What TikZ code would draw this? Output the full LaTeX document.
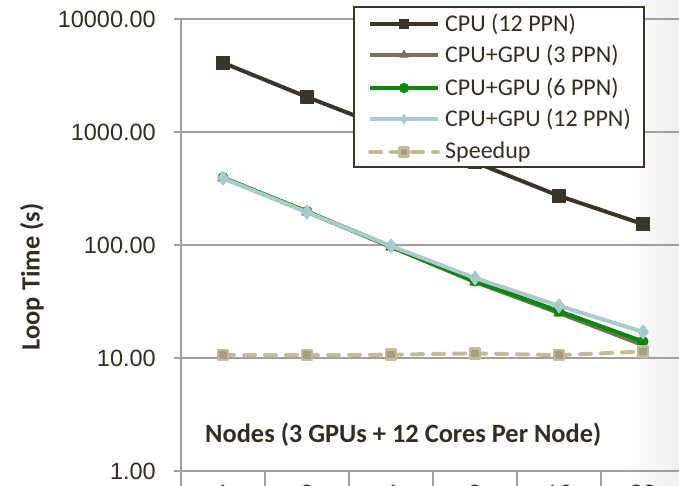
\documentclass[tikz,border=0pt]{standalone}
\usepackage{fontspec}
\setmainfont{Carlito}
\newfontfamily\axisfont{Liberation Sans}
\usetikzlibrary{math, plotmarks}
\definecolor{cpubrown}{RGB}{59,52,40}
\definecolor{taupe}{RGB}{122,110,88}
\definecolor{leafgreen}{RGB}{0,140,0}
\definecolor{paleteal}{RGB}{168,204,204}
\definecolor{sandtan}{RGB}{196,188,150}
\definecolor{sandfill}{RGB}{166,158,126}
\definecolor{gridgray}{RGB}{160,160,160}
\definecolor{inkbrown}{RGB}{51,46,36}

% log axis: value -> y pixel
\newcommand{\ly}[1]{19+113*(4-log10(#1))}

\tikzset{
  gridline/.style={gridgray, line width=2pt},
  ticklabel/.style={inner sep=0, text=inkbrown, font=\axisfont\fontsize{23.5}{24}\selectfont},
  series/.style={line width=4pt, line join=round, mark options={solid, line width=1pt}},
  cpuline/.style={series, cpubrown, mark=square*, mark size=6.5pt},
  ppnthree/.style={series, taupe, mark=triangle*, mark size=6pt},
  ppnsix/.style={series, leafgreen, mark=*, mark size=5pt},
  ppntwelve/.style={series, paleteal, mark=diamond*, mark size=7pt},
  speedline/.style={series, sandtan, dash pattern=on 11pt off 10pt, line cap=round,
    mark=square*, mark size=5pt, mark options={solid, fill=sandfill, draw=sandtan, line width=2.5pt}},
  legendbox/.style={draw=cpubrown, line width=1.5pt, fill=white},
  legendtext/.style={anchor=west, inner sep=0, text=inkbrown, font=\fontsize{24}{25}\selectfont},
  titletext/.style={inner sep=0, text=inkbrown, font=\bfseries\fontsize{26.4}{27}\selectfont}
}

\begin{document}
\begin{tikzpicture}[x=1pt, y=-1pt]
\tikzmath{
\xa=223; \dx=84;
}
\useasboundingbox (0,0) rectangle (679,486);
\shade[left color=white, right color=black!6] (620,0) rectangle (679,486);

% grid and y labels
\foreach \e/\lab in {0/10000.00, 1/1000.00, 2/100.00, 3/10.00, 4/1.00}{
  \draw[gridline] (174,19+113*\e) -- (679,19+113*\e);
  \node[ticklabel, anchor=east] (ytick\e) at (156,19+113*\e) {\lab};
}
\draw[gridline] (181,19) -- (181,486);

% x ticks (cut at the bottom)
\foreach \i/\lab in {0/1, 1/2, 2/4, 3/8, 4/16, 5/32}{
  \draw[gridline] ({181+\dx*(\i+1)},470) -- ({181+\dx*(\i+1)},486);
  \node[ticklabel, anchor=north] (xtick\i) at ({\xa+\dx*\i},485) {\lab};
}

\node[titletext, rotate=90] (ylab) at (32,277) {Loop Time (s)};
\node[titletext, anchor=west] (xlab) at (205,435) {Nodes (3 GPUs + 12 Cores Per Node)};

% data
\draw[cpuline] plot coordinates {(223,{\ly{4100}}) (307,{\ly{2040}}) (391,{\ly{1050}}) (475,{\ly{540}}) (559,{\ly{272}}) (643,{\ly{153}})};
\draw[ppnthree] plot coordinates {(223,{\ly{392}}) (307,{\ly{196}}) (391,{\ly{96}}) (475,{\ly{47}}) (559,{\ly{25}}) (643,{\ly{13}})};
\draw[ppnsix] plot coordinates {(223,{\ly{395}}) (307,{\ly{198}}) (391,{\ly{97}}) (475,{\ly{48}}) (559,{\ly{26}}) (643,{\ly{14}})};
\draw[ppntwelve] plot coordinates {(223,{\ly{390}}) (307,{\ly{195}}) (391,{\ly{98}}) (475,{\ly{51}}) (559,{\ly{29}}) (643,{\ly{17}})};
\draw[speedline] plot coordinates {(223,{\ly{10.6}}) (307,{\ly{10.6}}) (391,{\ly{10.7}}) (475,{\ly{11}}) (559,{\ly{10.6}}) (643,{\ly{11.4}})};

% legend
\draw[legendbox] (354,7) rectangle (644,167);
\foreach \y/\sty/\lab in {24/cpuline/CPU (12 PPN), 55/ppnthree/CPU+GPU (3 PPN), 88/ppnsix/CPU+GPU (6 PPN), 119/ppntwelve/CPU+GPU (12 PPN), 152/speedline/Speedup}{
  \draw[\sty, mark size=4.5pt, mark indices={2}] plot coordinates {(370,\y) (404,\y) (438,\y)};
  \node[legendtext] (leg\y) at (445,\y) {\lab};
}
\end{tikzpicture}
\end{document}
